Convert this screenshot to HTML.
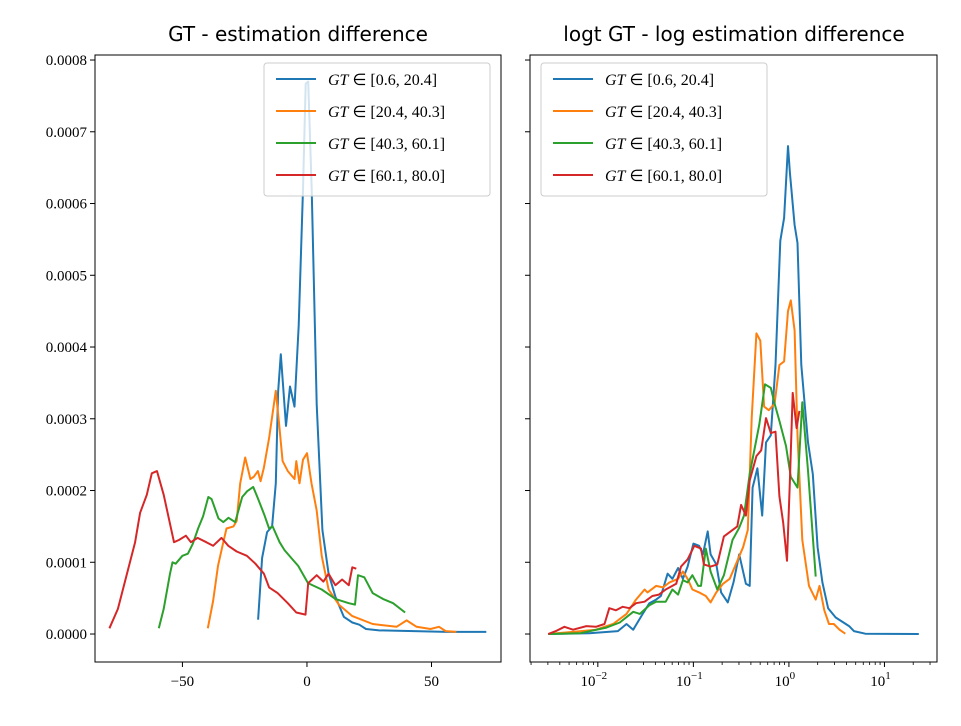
<!DOCTYPE html>
<html><head><meta charset="utf-8"><style>
body{margin:0;background:#fff;}
svg text{font-family:"Liberation Serif",serif;}
</style></head><body>
<svg id="c" width="961" height="721" xmlns="http://www.w3.org/2000/svg">
<rect width="961" height="721" fill="#fff"/>
<text x="298" y="41" font-size="20" text-anchor="middle" style="font-family:'DejaVu Sans',sans-serif">GT - estimation difference</text>
<text x="734" y="41" font-size="20" text-anchor="middle" style="font-family:'DejaVu Sans',sans-serif">logt GT - log estimation difference</text>
<g id="left"></g>
<g id="right"></g>
</svg>
<script>
const colors=["#1f77b4","#ff7f0e","#2ca02c","#d62728"];
const legendLabels=["[0.6, 20.4]","[20.4, 40.3]","[40.3, 60.1]","[60.1, 80.0]"];
const yTicks=[0,0.0001,0.0002,0.0003,0.0004,0.0005,0.0006,0.0007,0.0008];
const leftXTicks=[-50,0,50];
const rightXTicks=[-2,-1,0,1];
// left panel: x = difference, y in units of 1e-4
const leftBlueX=[-19.6,-18,-16,-14,-12.5,-11.6,-10.5,-8.4,-6.8,-5,-3.3,-1.6,-0.5,0.5,1.9,3.9,6.2,8.7,11.4,14.8,18.2,21,23.7,29,43,56,72];
const leftBlueY=[0.2,1.06,1.42,1.5,2.1,3.37,3.9,2.9,3.45,3.17,4.3,6.2,7.67,7.7,6.2,3.2,1.45,0.84,0.52,0.24,0.16,0.13,0.07,0.05,0.04,0.03,0.03];
const leftOrangeX=[-39.8,-37.7,-35.7,-33.6,-32.3,-29.5,-28.2,-26.8,-24.8,-22.7,-21.4,-19.7,-18.6,-17.3,-15.2,-12.5,-11.2,-9.8,-7.7,-5,-4.3,-3,-1.6,0,1.8,3.9,5.9,8.7,12.8,18.2,26.4,36,40,44,49.6,53,55.7,60];
const leftOrangeY=[0.08,0.46,0.95,1.28,1.47,1.5,1.58,2.1,2.46,2.16,2.19,2.27,2.13,2.32,2.73,3.39,2.93,2.41,2.27,2.16,2.41,2.1,2.43,2.52,2.1,1.72,1.09,0.62,0.41,0.25,0.14,0.1,0.19,0.1,0.07,0.1,0.04,0.03];
const leftGreenX=[-59.5,-57.5,-55,-54,-52.7,-50,-47.8,-45.8,-43.7,-41.7,-39.6,-38.3,-35.5,-33.6,-31.5,-28.8,-26,-24,-21.6,-19.7,-17.2,-15.2,-13.8,-11,-9,-6.3,-3.5,0.4,5.9,11.4,16.8,19.3,20.5,23,26.4,30.5,34.6,39.4];
const leftGreenY=[0.08,0.35,0.84,1.0,0.98,1.09,1.12,1.26,1.47,1.64,1.91,1.88,1.61,1.56,1.62,1.56,1.91,1.99,2.05,1.89,1.67,1.47,1.5,1.28,1.17,1.06,0.95,0.71,0.62,0.49,0.43,0.41,0.82,0.79,0.57,0.49,0.43,0.3];
const leftRedX=[-79.3,-75.9,-71.8,-69,-67,-64.3,-62.3,-60.2,-57.5,-53.4,-51.4,-48.6,-46.6,-43.9,-40.4,-37.7,-34.3,-31.6,-28.2,-24.1,-20.7,-17.3,-15.2,-11.8,-7.7,-4.3,-0.6,0.5,3.9,6.6,8.7,11.4,14.1,16.8,18.2,19.8];
const leftRedY=[0.08,0.35,0.9,1.28,1.69,1.94,2.24,2.27,1.94,1.28,1.31,1.37,1.28,1.34,1.28,1.23,1.34,1.23,1.15,1.09,0.98,0.84,0.65,0.57,0.43,0.3,0.27,0.71,0.82,0.73,0.84,0.68,0.76,0.68,0.93,0.91];
// right panel: x = log10(value), y in units of 1e-4
const rightBlueX=[-2.52,-2.09,-1.79,-1.70,-1.63,-1.53,-1.46,-1.39,-1.34,-1.27,-1.22,-1.16,-1.11,-1.06,-1.0,-0.94,-0.90,-0.85,-0.82,-0.76,-0.71,-0.64,-0.58,-0.52,-0.45,-0.41,-0.38,-0.33,-0.28,-0.24,-0.19,-0.14,-0.09,-0.05,-0.01,0.01,0.06,0.09,0.13,0.20,0.25,0.30,0.35,0.41,0.49,0.63,0.68,0.80,1.36];
const rightBlueY=[0,0.01,0.04,0.14,0.06,0.28,0.43,0.48,0.53,0.84,0.77,0.92,0.77,0.94,1.26,1.23,1.11,1.43,1.11,0.97,0.58,0.44,0.72,1.11,0.70,0.67,2.04,2.31,1.65,2.67,2.77,3.75,5.48,5.8,6.8,6.43,5.7,5.45,3.75,2.67,2.23,1.21,0.72,0.36,0.23,0.11,0.04,0.005,0];
const rightOrangeX=[-2.52,-2.26,-2.02,-1.84,-1.70,-1.60,-1.51,-1.48,-1.39,-1.32,-1.25,-1.16,-1.11,-1.06,-1.01,-0.94,-0.87,-0.82,-0.76,-0.69,-0.62,-0.55,-0.48,-0.43,-0.39,-0.34,-0.30,-0.26,-0.21,-0.15,-0.10,-0.05,-0.01,0.02,0.06,0.09,0.14,0.21,0.28,0.32,0.37,0.42,0.47,0.53,0.59];
const rightOrangeY=[0,0.03,0.06,0.14,0.28,0.48,0.62,0.58,0.67,0.65,0.72,0.77,0.87,0.77,0.62,0.58,0.53,0.44,0.58,0.70,0.77,0.99,1.21,1.45,3.01,4.19,4.09,3.17,3.12,3.21,3.75,3.8,4.5,4.65,4.23,2.77,1.31,0.67,0.48,0.67,0.33,0.14,0.14,0.06,0.005];
const rightGreenX=[-2.52,-2.19,-1.91,-1.77,-1.63,-1.56,-1.46,-1.39,-1.29,-1.22,-1.16,-1.11,-1.06,-1.01,-0.95,-0.92,-0.87,-0.82,-0.75,-0.68,-0.59,-0.52,-0.47,-0.41,-0.31,-0.25,-0.19,-0.15,-0.10,-0.03,0.02,0.09,0.14,0.20,0.28];
const rightGreenY=[0,0.01,0.09,0.16,0.31,0.28,0.40,0.45,0.45,0.62,0.55,0.75,0.72,0.82,0.67,0.67,1.19,0.87,0.62,0.82,1.31,1.48,1.65,2.23,2.92,3.48,3.43,3.21,2.97,2.62,2.19,2.04,3.23,2.28,0.80];
const rightRedX=[-2.52,-2.44,-2.35,-2.26,-2.12,-2.02,-1.93,-1.88,-1.81,-1.74,-1.67,-1.60,-1.51,-1.43,-1.36,-1.29,-1.18,-1.13,-1.06,-0.99,-0.92,-0.89,-0.82,-0.75,-0.68,-0.61,-0.54,-0.50,-0.45,-0.41,-0.34,-0.29,-0.24,-0.19,-0.14,-0.10,-0.06,-0.02,0.01,0.04,0.08,0.11];
const rightRedY=[0,0.04,0.10,0.06,0.11,0.10,0.14,0.36,0.33,0.38,0.36,0.43,0.45,0.53,0.55,0.62,0.70,0.94,1.04,1.23,1.19,0.97,0.94,0.97,1.36,1.43,1.50,1.80,1.65,2.14,2.48,2.56,3.01,2.80,2.82,1.92,1.55,1.02,2.14,3.36,2.87,3.11];

const NS="http://www.w3.org/2000/svg";
function mk(parent,tag,attrs){const e=document.createElementNS(NS,tag);for(const k in attrs)e.setAttribute(k,attrs[k]);parent.appendChild(e);return e;}
const T=55,B=662;
const yMin=-0.000039,yMax=0.000807;
function ys(v){return B-(v-yMin)/(yMax-yMin)*(B-T);}
function panel(g,L,R,xMin,xMax,xs,ys_,isLog,ticks,showY,legX){
  const sx=v=>L+(v-xMin)/(xMax-xMin)*(R-L);
  const clip=mk(g,"clipPath",{id:"cl"+L});mk(clip,"rect",{x:L,y:T,width:R-L,height:B-T});
  const lg=mk(g,"g",{"clip-path":"url(#cl"+L+")"});
  for(let s=0;s<4;s++){
    const pts=xs[s].map((x,i)=>sx(x).toFixed(1)+","+ys(ys_[s][i]*1e-4).toFixed(1)).join(" ");
    const p=mk(lg,"polyline",{points:pts,fill:"none",stroke:colors[s],"stroke-width":2,"stroke-linejoin":"round"});
    
    
  }
  const fr=mk(g,"rect",{x:L,y:T,width:R-L,height:B-T,fill:"none",stroke:"#000","stroke-width":1});
  
  
  yTicks.forEach(v=>{
    mk(g,"line",{x1:L-5,x2:L,y1:ys(v),y2:ys(v),stroke:"#000"});
    if(showY){const t=mk(g,"text",{x:L-8,y:ys(v)+5,"font-size":15,"text-anchor":"end"});t.textContent=v.toFixed(4);
      
      }
  });
  ticks.forEach(v=>{
    const x=sx(v);mk(g,"line",{x1:x,x2:x,y1:B,y2:B+5,stroke:"#000"});
    const t=mk(g,"text",{x:x,y:B+24,"font-size":15,"text-anchor":"middle"});
    
    
    if(isLog){t.textContent="10";const s=mk(t,"tspan",{dy:-7,"font-size":11});s.textContent=(v<0?"\u2212"+(-v):String(v));
      t.setAttribute("x",x-4);}
    else t.textContent=(v<0?"\u2212"+(-v):String(v));
  });
  if(isLog){
    for(let d=-3;d<=2;d++)for(let m=2;m<=9;m++){const lv=d+Math.log10(m);if(lv>xMin&&lv<xMax){const x=sx(lv);mk(g,"line",{x1:x,x2:x,y1:B,y2:B+3,stroke:"#000","stroke-width":0.8});}}
  }
  const lgd=mk(g,"g",{});
  
  
  mk(lgd,"rect",{x:legX,y:63,width:226,height:133,rx:3,fill:"#fff","fill-opacity":0.8,stroke:"#ccc"});
  for(let s=0;s<4;s++){
    const y=79+s*32;
    mk(lgd,"line",{x1:legX+12,x2:legX+52,y1:y,y2:y,stroke:colors[s],"stroke-width":2});
    const t=mk(lgd,"text",{x:legX+64,y:y+6,"font-size":16});
    
    
    const i1=mk(t,"tspan",{"font-style":"italic"});i1.textContent="GT";
    const i2=mk(t,"tspan",{});i2.textContent=" \u2208 "+legendLabels[s];
  }
}
panel(document.getElementById("left"),95,501,-85.1,77.9,[leftBlueX,leftOrangeX,leftGreenX,leftRedX],[leftBlueY,leftOrangeY,leftGreenY,leftRedY],false,leftXTicks,true,264);
panel(document.getElementById("right"),530,937,-2.71,1.55,[rightBlueX,rightOrangeX,rightGreenX,rightRedX],[rightBlueY,rightOrangeY,rightGreenY,rightRedY],true,rightXTicks,false,541);
</script>
</body></html>
